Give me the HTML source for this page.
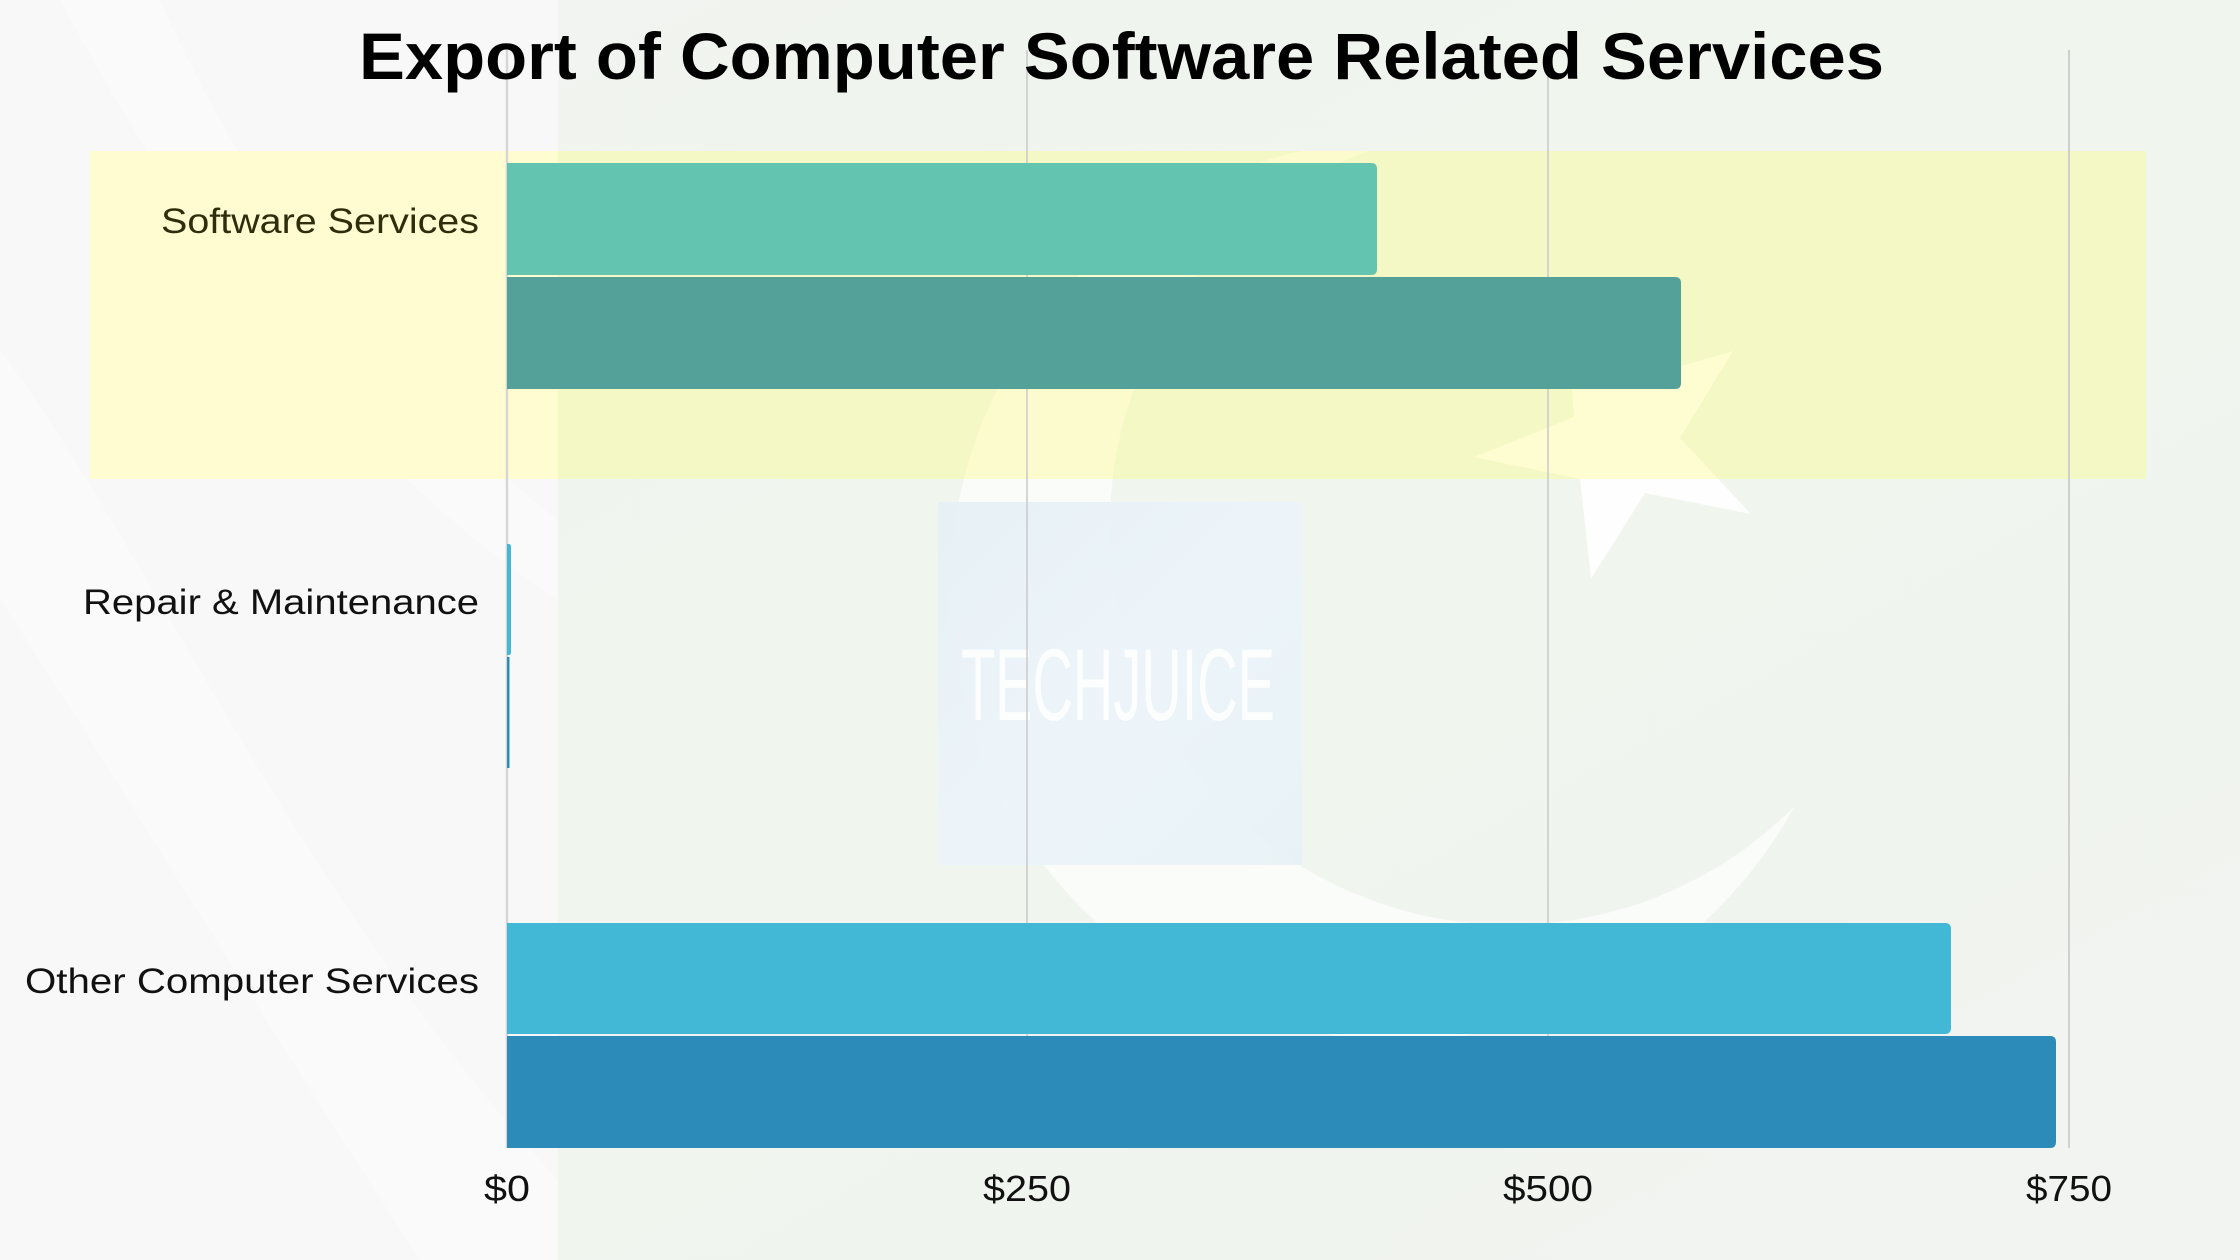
<!DOCTYPE html>
<html>
<head>
<meta charset="utf-8">
<style>
  html,body{margin:0;padding:0;background:#f0f4ef;}
  svg{display:block;}
</style>
</head>
<body>
<svg width="2240" height="1260" viewBox="0 0 2240 1260" xmlns="http://www.w3.org/2000/svg">
  <defs>
    <linearGradient id="bgR" x1="0" y1="0" x2="1" y2="1">
      <stop offset="0" stop-color="#f1f4f0"/>
      <stop offset="0.5" stop-color="#f0f5ee"/>
      <stop offset="1" stop-color="#f1f4f0"/>
    </linearGradient>
    <linearGradient id="wm" x1="0" y1="0" x2="1" y2="1">
      <stop offset="0" stop-color="#e6f0f4"/>
      <stop offset="0.5" stop-color="#ecf4fa"/>
      <stop offset="1" stop-color="#e8f2f6"/>
    </linearGradient>
    <mask id="cres" maskUnits="userSpaceOnUse" x="0" y="0" width="2240" height="1260">
      <rect x="0" y="0" width="2240" height="1260" fill="#000"/>
      <circle cx="1400" cy="590" r="450" fill="#fff"/>
      <circle cx="1510" cy="525" r="400" fill="#000"/>
    </mask>
    <clipPath id="band">
      <rect x="90" y="151" width="2056" height="328"/>
    </clipPath>
    <clipPath id="below">
      <rect x="0" y="151" width="2240" height="1109"/>
    </clipPath>
  </defs>

  <!-- background -->
  <rect x="0" y="0" width="2240" height="1260" fill="url(#bgR)"/>
  <rect x="0" y="0" width="558" height="1260" fill="#f8f8f8"/>
  <!-- soft streaks on left -->
  <path d="M0,350 C150,550 300,900 558,1180 L558,1260 L420,1260 C250,1000 100,750 0,600 Z" fill="#fcfcfc" opacity="0.5"/>
  <path d="M60,0 L160,0 C250,200 380,380 558,520 L558,600 C360,470 200,260 60,0 Z" fill="#fcfcfc" opacity="0.4"/>

  <!-- crescent -->
  <g clip-path="url(#below)">
    <rect x="0" y="0" width="2240" height="1260" fill="#ffffff" opacity="0.7" mask="url(#cres)"/>
  </g>
  <!-- star -->
  <polygon fill="#ffffff" opacity="0.85"
           points="1733,351 1680,438 1751,514 1645,493 1591,579 1580,479 1474,457 1574,417 1565,300 1640,378"/>

  <!-- highlight band -->
  <rect x="90" y="151" width="468" height="328" fill="#fffcd2"/>
  <rect x="558" y="151" width="1588" height="328" fill="#f4f8c4"/>
  <g clip-path="url(#band)">
    <rect x="0" y="0" width="2240" height="1260" fill="#fffdd2" opacity="0.7" mask="url(#cres)"/>
    <polygon fill="#fffdd4" opacity="0.9"
             points="1733,351 1680,438 1751,514 1645,493 1591,579 1580,479 1474,457 1574,417 1565,300 1640,378"/>
  </g>

  <!-- watermark -->
  <rect x="938" y="502" width="364" height="363" fill="url(#wm)" opacity="0.95"/>
  <text x="961" y="720" font-family="'Liberation Sans Narrow','Liberation Sans',sans-serif" font-size="102" fill="#ffffff" fill-opacity="0.85" textLength="314" lengthAdjust="spacingAndGlyphs">TECHJUICE</text>

  <!-- gridlines -->
  <line x1="507" y1="50" x2="507" y2="1148" stroke="#d6d6d6" stroke-width="2.5"/>
  <line x1="1027" y1="50" x2="1027" y2="1148" stroke="#c9c9c9" stroke-width="1.5"/>
  <line x1="1548" y1="50" x2="1548" y2="1148" stroke="#c9c9c9" stroke-width="1.5"/>
  <line x1="2069" y1="50" x2="2069" y2="1148" stroke="#c4c4c4" stroke-width="1.5"/>

  <!-- bars -->
  <path fill="#63c5b0" d="M507,163 H1371 Q1377,163 1377,169 V269 Q1377,275 1371,275 H507 Z"/>
  <path fill="#53a199" d="M507,277 H1675 Q1681,277 1681,283 V383 Q1681,389 1675,389 H507 Z"/>
  <path fill="#42b8d6" d="M507,544 H509 Q511,544 511,547 V652 Q511,655 509,655 H507 Z"/>
  <rect x="507" y="657" width="2.5" height="111" fill="#2d8bb9"/>
  <path fill="#42b8d6" d="M507,923 H1945 Q1951,923 1951,929 V1028 Q1951,1034 1945,1034 H507 Z"/>
  <path fill="#2d8bb9" d="M507,1036 H2050 Q2056,1036 2056,1042 V1142 Q2056,1148 2050,1148 H507 Z"/>

  <!-- title -->
  <text x="359" y="79" font-family="'Liberation Sans',sans-serif" font-weight="bold" font-size="66" fill="#000" textLength="1525" lengthAdjust="spacingAndGlyphs">Export of Computer Software Related Services</text>

  <!-- category labels -->
  <text x="161" y="233" font-family="'Liberation Sans',sans-serif" font-size="35" fill="#2e2e0c" textLength="318" lengthAdjust="spacingAndGlyphs">Software Services</text>
  <text x="83" y="614" font-family="'Liberation Sans',sans-serif" font-size="35" fill="#111" textLength="396" lengthAdjust="spacingAndGlyphs">Repair &amp; Maintenance</text>
  <text x="25" y="993" font-family="'Liberation Sans',sans-serif" font-size="35" fill="#111" textLength="454" lengthAdjust="spacingAndGlyphs">Other Computer Services</text>

  <!-- x tick labels -->
  <text x="484" y="1201" font-family="'Liberation Sans',sans-serif" font-size="36" fill="#111" textLength="46" lengthAdjust="spacingAndGlyphs">$0</text>
  <text x="983" y="1201" font-family="'Liberation Sans',sans-serif" font-size="36" fill="#111" textLength="88" lengthAdjust="spacingAndGlyphs">$250</text>
  <text x="1503" y="1201" font-family="'Liberation Sans',sans-serif" font-size="36" fill="#111" textLength="90" lengthAdjust="spacingAndGlyphs">$500</text>
  <text x="2026" y="1201" font-family="'Liberation Sans',sans-serif" font-size="36" fill="#111" textLength="86" lengthAdjust="spacingAndGlyphs">$750</text>
</svg>
</body>
</html>
